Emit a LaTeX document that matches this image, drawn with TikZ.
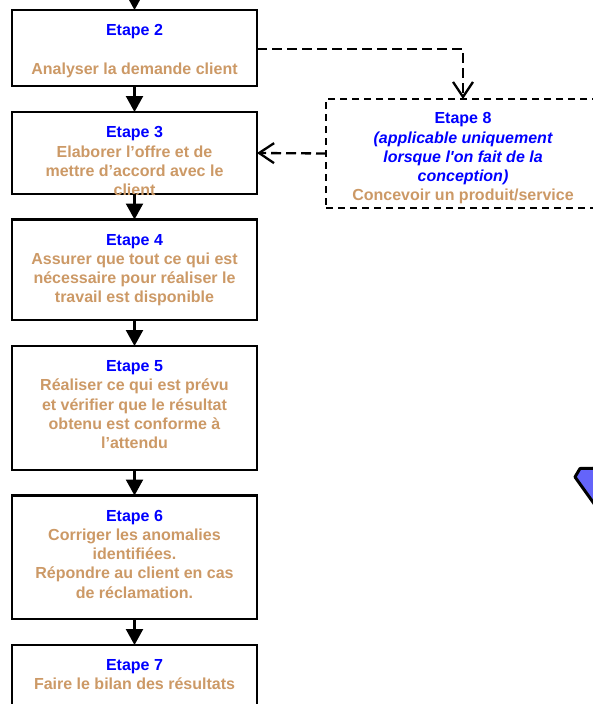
\documentclass[tikz,border=0pt]{standalone}
\usepackage{fontspec}
\setmainfont{Liberation Sans}
\usetikzlibrary{arrows.meta}

\definecolor{etapeblue}{RGB}{0,0,255}
\definecolor{tasktan}{RGB}{204,153,102}
\definecolor{gemblue}{RGB}{100,100,250}

\tikzset{
  stepbox/.style={draw=black, line width=2.3pt, rectangle, inner sep=0pt,
    outer sep=0pt, minimum width=245pt},
  optbox/.style={draw=black, line width=1.6pt, dash pattern=on 7pt off 5pt,
    rectangle, inner sep=0pt, outer sep=0pt, minimum width=274pt},
  steptext/.style={anchor=north, inner sep=0pt, align=center,
    font=\bfseries\fontsize{16}{19.2}\selectfont},
  flow/.style={draw=black, line width=2.3pt,
    -{Triangle[length=16pt,width=17pt]}},
  optflow/.style={draw=black, line width=2.3pt, dash pattern=on 10pt off 5pt,
    -{Straight Barb[length=15pt,width=20pt,line width=2.3pt]}},
}
\newcommand{\etape}[1]{\textcolor{etapeblue}{#1}}
\newcommand{\tache}[1]{\textcolor{tasktan}{#1}}
\newcommand{\remarque}[1]{\textcolor{etapeblue}{\itshape #1}}

\begin{document}
\begin{tikzpicture}[x=1pt, y=-1pt]
  \useasboundingbox (0,0) rectangle (593,704);
  \clip (0,0) rectangle (593,704);

  % main chain of steps
  \node[stepbox, minimum height=76pt]    (b2) at (134.5,48) {};
  \node[stepbox, minimum height=82pt]    (b3) at (134.5,153) {};
  \node[stepbox, minimum height=100.5pt] (b4) at (134.5,269.75) {};
  \node[stepbox, minimum height=124pt]   (b5) at (134.5,408) {};
  \node[stepbox, minimum height=123.5pt] (b6) at (134.5,557.25) {};
  \node[stepbox, minimum height=120pt]   (b7) at (134.5,705) {};

  % optional design step
  \node[optbox, minimum height=109pt] (b8) at (463,153.5) {};

  % texts, hung from the top edge of each box
  \node[steptext] (t2) at ([yshift=-14.5pt]b2.north)
    {\etape{Etape 2}\\ \\ \tache{Analyser la demande client}};
  \node[steptext] (t3) at ([yshift=-14.5pt]b3.north)
    {\etape{Etape 3}\\ \tache{Elaborer l’offre et de}\\
     \tache{mettre d’accord avec le}\\ \tache{client}};
  \node[steptext] (t4) at ([yshift=-14.5pt]b4.north)
    {\etape{Etape 4}\\ \tache{Assurer que tout ce qui est}\\
     \tache{nécessaire pour réaliser le}\\ \tache{travail est disponible}};
  \node[steptext] (t5) at ([yshift=-14.5pt]b5.north)
    {\etape{Etape 5}\\ \tache{Réaliser ce qui est prévu}\\
     \tache{et vérifier que le résultat}\\ \tache{obtenu est conforme à}\\
     \tache{l’attendu}};
  \node[steptext] (t6) at ([yshift=-14.5pt]b6.north)
    {\etape{Etape 6}\\ \tache{Corriger les anomalies}\\
     \tache{identifiées.}\\ \tache{Répondre au client en cas}\\
     \tache{de réclamation.}};
  \node[steptext] (t7) at ([yshift=-14.5pt]b7.north)
    {\etape{Etape 7}\\ \tache{Faire le bilan des résultats}};
  \node[steptext] (t8) at ([yshift=-13.5pt]b8.north)
    {\etape{Etape 8}\\ \remarque{(applicable uniquement}\\
     \remarque{lorsque l\textquotesingle on fait de la}\\ \remarque{conception)}\\
     \tache{Concevoir un produit/service}};

  % incoming arrow from the previous step
  \coordinate (prev) at (134.5,-30);
  \draw[flow] (prev) -- (b2.north);

  % sequence arrows
  \draw[flow] (b2.south) -- (b3.north);
  \draw[flow] (b3.south) -- (b4.north);
  \draw[flow] (b4.south) -- (b5.north);
  \draw[flow] (b5.south) -- (b6.north);
  \draw[flow] (b6.south) -- (b7.north);

  % optional branch through the design step
  \draw[optflow] ([yshift=-1pt]b2.east) -| (b8.north);
  \draw[optflow] (b8.west) -- (b3.east);

  % blue shape at the right margin
  \filldraw[fill=gemblue, draw=black, line width=3pt, line join=round]
    (605,468) -- (580,468.5) -- (575,477) -- (605,519) -- cycle;
\end{tikzpicture}
\end{document}
